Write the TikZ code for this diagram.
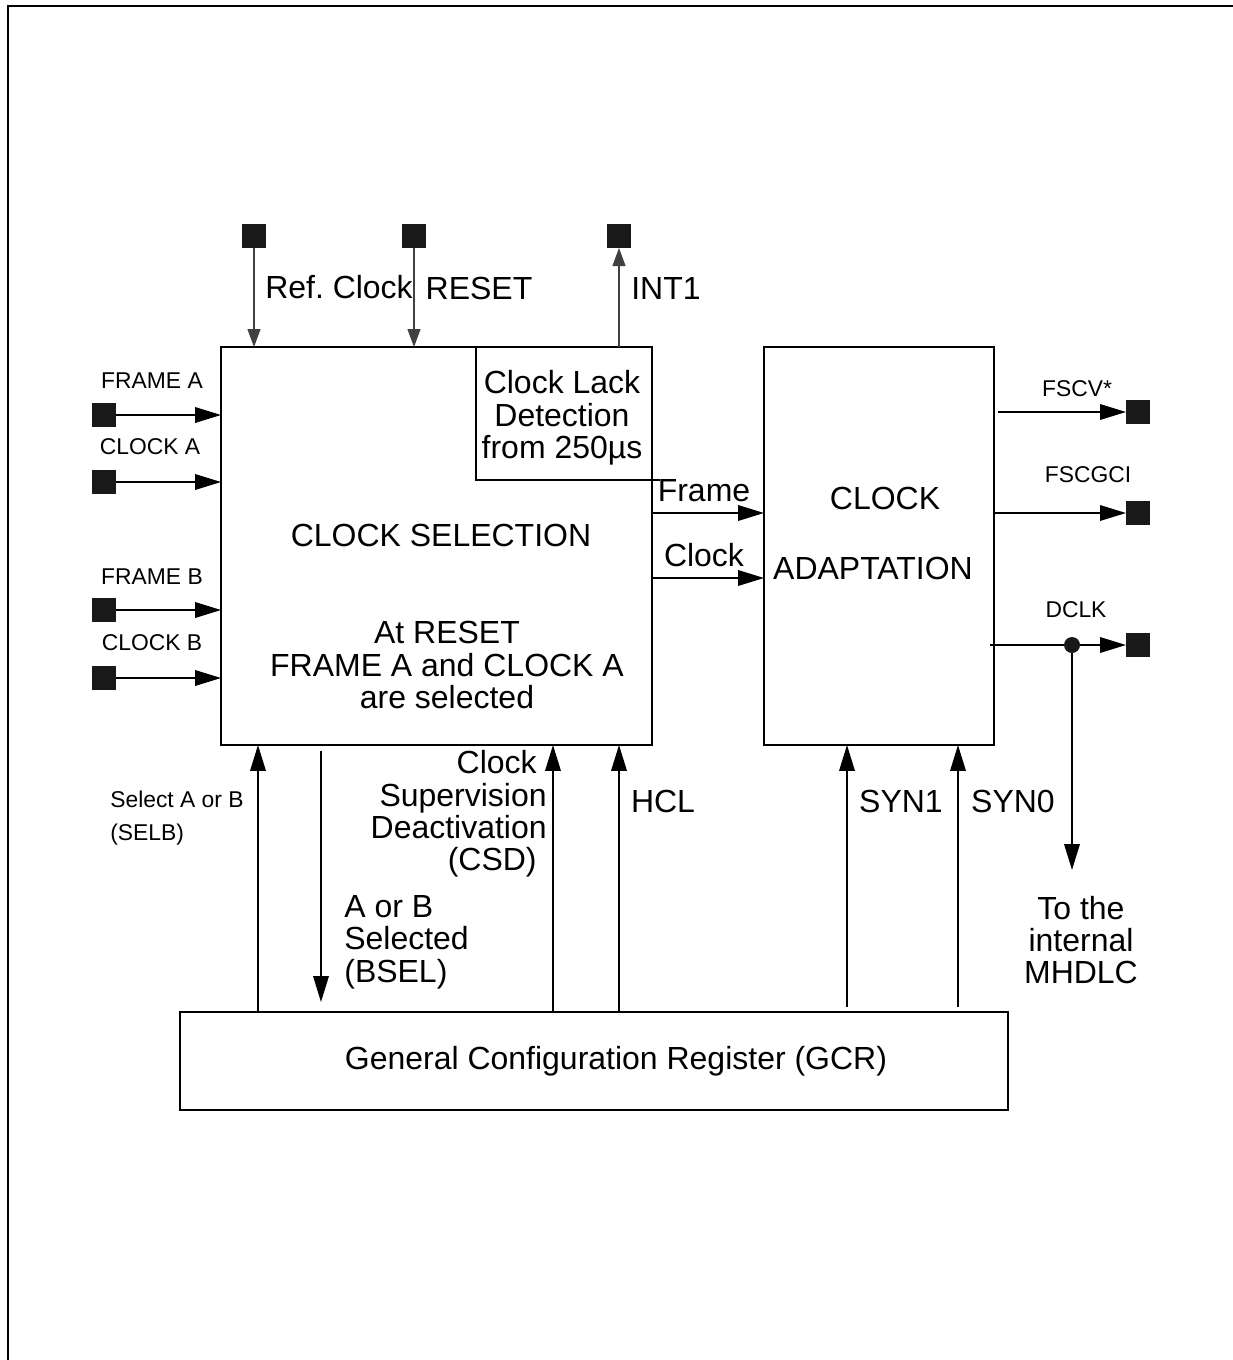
\documentclass[tikz,border=0pt]{standalone}
\usepackage{fontspec}
\setmainfont{Liberation Sans}
\usetikzlibrary{arrows.meta,positioning}
\frenchspacing

\begin{document}
\begin{tikzpicture}[
		x=0.02cm, y=-0.02cm,
		box/.style={draw, line width=1.2pt, inner sep=0pt, outer sep=0pt},
		pin/.style={rectangle, fill=black!90, inner sep=0pt, outer sep=0pt, minimum size=0.48cm},
		junction/.style={circle, fill=black!90, inner sep=0pt, minimum size=0.32cm},
		bigtext/.style={font=\fontsize{18.2}{18.4}\selectfont, inner sep=0pt, align=center},
		smalltext/.style={font=\fontsize{13}{18.4}\selectfont, inner sep=0pt, align=center},
		sig/.style={-{Triangle[length=0.52cm,width=0.31cm]}, line width=1.1pt},
		thinsig/.style={-{Triangle[length=0.36cm,width=0.26cm]}, line width=0.6pt, draw=black!75, fill=black}
		]

		\useasboundingbox (0,0) rectangle (1233,1360);

		% --- Cadre ---
		\draw[line width=1.7pt] (8,1400) -- (8,6) -- (1300,6);

		% --- Blocs ---
		\node[box, minimum width=8.62cm, minimum height=7.96cm] (sel) at (436.5,546) {};
		\node[box, minimum width=3.52cm, minimum height=2.66cm] (lack) at (564,413.5) {};
		\node[box, minimum width=4.6cm, minimum height=7.96cm] (adapt) at (879,546) {};
		\node[box, minimum width=16.56cm, minimum height=1.96cm] (gcr) at (594,1061) {};

		\node[bigtext] (seltitle) at (441,535) {CLOCK SELECTION};
		\node[bigtext] (selnote) at (447,665) {At RESET\\FRAME A and CLOCK A\\are selected};
		\node[bigtext] (lacktext) at (562,418) {Clock Lack\\Detection\\from 250µs};
		\node[bigtext] (adapttop) at (885,498) {CLOCK};
		\node[bigtext] (adaptbot) at (873,568) {ADAPTATION};
		\node[bigtext] (gcrtext) at (616,1061) {General Configuration Register (GCR)};

		% --- Broches du haut ---
		\node[pin] (refpin) at (254,236) {};
		\node[pin] (rstpin) at (414,236) {};
		\node[pin] (intpin) at (619,236) {};

		\draw[thinsig] (refpin) -- (refpin |- sel.north);
		\draw[thinsig] (rstpin) -- (rstpin |- sel.north);
		\draw[thinsig] (intpin |- lack.north) -- (intpin);

		\node[bigtext] (reflabel) at (339,287) {Ref. Clock};
		\node[bigtext] (rstlabel) at (479,288) {RESET};
		\node[bigtext] (intlabel) at (666,288) {INT1};

		% --- Entrees A et B ---
		\node[pin] (fapin) at (104,415) {};
		\node[pin] (capin) at (104,482) {};
		\node[pin] (fbpin) at (104,610) {};
		\node[pin] (cbpin) at (104,678) {};

		\draw[sig] (fapin) -- (fapin -| sel.west);
		\draw[sig] (capin) -- (capin -| sel.west);
		\draw[sig] (fbpin) -- (fbpin -| sel.west);
		\draw[sig] (cbpin) -- (cbpin -| sel.west);

		\node[smalltext] (falabel) at (152,381) {FRAME A};
		\node[smalltext] (calabel) at (150,447) {CLOCK A};
		\node[smalltext] (fblabel) at (152,577) {FRAME B};
		\node[smalltext] (cblabel) at (152,643) {CLOCK B};

		% --- Liaisons entre blocs ---
		\coordinate (frameout) at (652,513);
		\coordinate (clockout) at (652,578);
		\draw[line width=1.2pt] (lack.south east) -- ++(8,0);
		\draw[sig] (frameout) -- (frameout -| adapt.west);
		\draw[sig] (clockout) -- (clockout -| adapt.west);
		\node[bigtext] (framelabel) at (704,491) {Frame};
		\node[bigtext] (clocklabel) at (704,555) {Clock};

		% --- Sorties ---
		\node[pin] (fscvpin) at (1138,412) {};
		\node[pin] (fscgcipin) at (1138,513) {};
		\node[pin] (dclkpin) at (1138,645) {};
		\node[junction] (dclkdot) at (1072,645) {};
		\coordinate (mhdlcend) at (1072,870);

		\draw[sig] ([xshift=0.08cm]fscvpin -| adapt.east) -- (fscvpin);
		\draw[sig] (fscgcipin -| adapt.east) -- (fscgcipin);
		\draw[line width=1.1pt] ([xshift=-0.08cm]dclkdot -| adapt.east) -- (dclkdot);
		\draw[sig] (dclkdot) -- (dclkpin);
		\draw[sig] (dclkdot) -- (mhdlcend);

		\node[smalltext] (fscvlabel) at (1077,389) {FSCV*};
		\node[smalltext] (fscgcilabel) at (1088,475) {FSCGCI};
		\node[smalltext] (dclklabel) at (1076,610) {DCLK};
		\node[bigtext] (mhdlclabel) at (1081,940) {To the\\internal\\MHDLC};

		% --- Registre GCR ---
		\coordinate (selbx) at (258,0);
		\coordinate (bselx) at (321,0);
		\coordinate (csdx) at (553,0);
		\coordinate (hclx) at (619,0);
		\coordinate (syn1x) at (847,0);
		\coordinate (syn0x) at (958,0);

		\draw[sig] (selbx |- gcr.north) -- (selbx |- sel.south);
		\draw[sig] ([yshift=-0.12cm]bselx |- sel.south) -- ([yshift=0.2cm]bselx |- gcr.north);
		\draw[sig] (csdx |- gcr.north) -- (csdx |- sel.south);
		\draw[sig] (hclx |- gcr.north) -- (hclx |- sel.south);
		\draw[sig] ([yshift=0.1cm]syn1x |- gcr.north) -- (syn1x |- adapt.south);
		\draw[sig] ([yshift=0.1cm]syn0x |- gcr.north) -- (syn0x |- adapt.south);

		\node[smalltext, anchor=west, align=left] (selblabel) at (110,818) {Select A or B\\(SELB)};
		\node[bigtext, anchor=west, align=left] (bsellabel) at (344,942) {A or B\\Selected\\(BSEL)};
		\node[bigtext, anchor=east, align=right] (csdlabel) at (547,814)
			{Clock\hspace*{0.2cm}\\Supervision\\Deactivation\hspace*{0.06cm}\\(CSD)\hspace*{0.2cm}};
		\node[bigtext] (hcllabel) at (663,801) {HCL};
		\node[bigtext] (syn1label) at (901,801) {SYN1};
		\node[bigtext] (syn0label) at (1013,801) {SYN0};

	\end{tikzpicture}
\end{document}
